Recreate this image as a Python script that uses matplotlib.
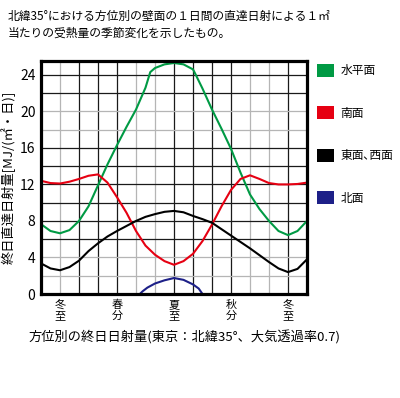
import numpy as np
import matplotlib
matplotlib.use('Agg')
from matplotlib import pyplot as plt
from matplotlib.patches import Patch

plt.rcParams['font.family'] = ['Noto Sans CJK JP', 'DejaVu Sans']

# 月 (冬至=0, 春分=3, 夏至=6, 秋分=9, 冬至=12)
months = [-1, -0.5, 0, 0.5, 1, 1.5, 2, 2.5, 3, 3.5, 4, 4.5, 5, 5.5, 6,
          6.5, 7, 7.5, 8, 8.5, 9, 9.5, 10, 10.5, 11, 11.5, 12, 12.5, 13]
horizontal_x = [-1, -0.5, 0, 0.5, 1, 1.5, 2, 2.5, 3, 3.5, 4, 4.5, 4.75, 5, 5.5, 6,
                6.5, 7, 7.1, 7.5, 8, 8.5, 9, 9.5, 10, 10.5, 11, 11.5, 12, 12.5, 13]
horizontal = [7.65, 6.9, 6.65, 7.0, 8.0, 9.6, 11.9, 14.2, 16.3, 18.3, 20.2, 22.6, 24.3, 24.75, 25.15, 25.3,
              25.15, 24.6, 24.2, 22.5, 20.2, 18.1, 15.9, 13.3, 10.9, 9.3, 8.0, 6.9, 6.45, 6.9, 8.0]
south = [12.4, 12.15, 12.1, 12.3, 12.6, 12.95, 13.1, 12.2, 10.6, 8.9, 6.9, 5.3, 4.3, 3.6, 3.2,
         3.6, 4.4, 5.8, 7.6, 9.6, 11.4, 12.6, 13.0, 12.6, 12.15, 12.0, 12.0, 12.05, 12.2]
east_west = [3.35, 2.8, 2.6, 2.95, 3.65, 4.7, 5.55, 6.3, 6.9, 7.45, 8.0, 8.45, 8.75, 9.0, 9.1,
             8.95, 8.55, 8.2, 7.8, 7.1, 6.4, 5.7, 5.0, 4.25, 3.5, 2.8, 2.4, 2.75, 3.8]
north_x = [4.2, 4.35, 4.6, 5.0, 5.5, 6.0, 6.5, 7.0, 7.3, 7.5]
north = [0.0, 0.3, 0.7, 1.15, 1.5, 1.75, 1.55, 1.05, 0.6, 0.0]

season_pos = [0, 3, 6, 9, 12]
season_labels = ['冬\n至', '春\n分', '夏\n至', '秋\n分', '冬\n至']
names = ['水平面', '南面', '東面､西面', '北面']
colors = ['#009a44', '#e60012', '#000000', '#1d2088']

fig = plt.figure(figsize=(4.0, 3.98), dpi=100)
ax = fig.add_axes([0.1025, 0.2613, 0.665, 0.585])

# グリッド（濃淡あり）
gray_x = [0, 4, 5, 10, 11]
for m in range(0, 13):
    ax.axvline(m, color='#b5b5b5' if m in gray_x else '#1a1a1a', lw=0.9, zorder=1)
gray_y = [2, 4, 18, 20]
for v in range(2, 26, 2):
    ax.axhline(v, color='#b5b5b5' if v in gray_y else '#1a1a1a', lw=0.9, zorder=1)

ax.plot(horizontal_x, horizontal, color=colors[0], lw=1.5, zorder=3)
ax.plot(months, south, color=colors[1], lw=1.5, zorder=3)
ax.plot(months, east_west, color=colors[2], lw=1.5, zorder=3)
ax.plot(north_x, north, color=colors[3], lw=1.5, zorder=3)

ax.set_xlim(-1, 13)
ax.set_ylim(0, 25.5)
ax.set_yticks(range(0, 25, 4))
ax.set_xticks(season_pos)
ax.set_xticklabels(season_labels, fontsize=8, linespacing=1.15)
ax.tick_params(axis='both', length=0, labelsize=10)
ax.tick_params(axis='x', labelsize=8, pad=4)
ax.tick_params(axis='y', pad=4)
for s in ax.spines.values():
    s.set_linewidth(2.3)
    s.set_zorder(5)

ax.set_ylabel('終日直達日射量[MJ/(㎡・日)]', fontsize=9.5, labelpad=3)

fig.text(0.018, 0.975, '北緯35°における方位別の壁面の１日間の直達日射による１㎡',
         fontsize=8.5, va='top', ha='left')
fig.text(0.018, 0.933, '当たりの受熱量の季節変化を示したもの。',
         fontsize=8.5, va='top', ha='left')
fig.text(0.07, 0.151, '方位別の終日日射量(東京：北緯35°、大気透過率0.7)',
         fontsize=9.5, va='center', ha='left')

handles = [Patch(facecolor=c, edgecolor='none') for c in colors]
fig.legend(handles, names, loc='upper left', bbox_to_anchor=(0.78, 0.852),
           frameon=False, fontsize=8.5, handlelength=1.5, handleheight=1.35,
           labelspacing=2.45, handletextpad=0.5, borderaxespad=0)

fig.savefig('out.png', dpi=100)
